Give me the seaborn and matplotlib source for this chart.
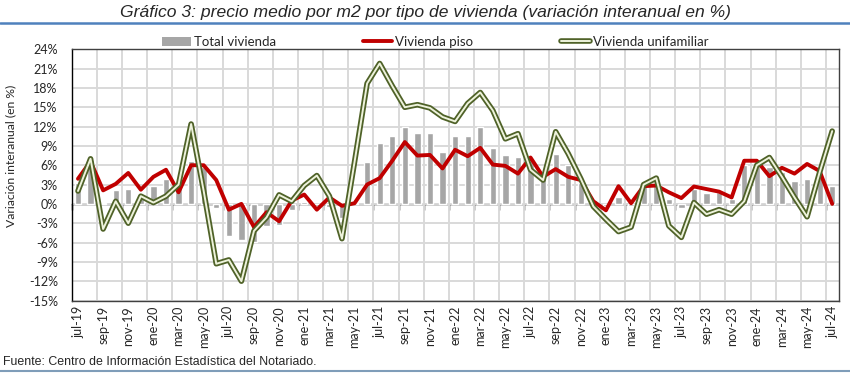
import matplotlib
matplotlib.use('Agg')
import matplotlib.pyplot as plt
import seaborn as sns
import numpy as np
import pandas as pd
from matplotlib.lines import Line2D
from matplotlib.patches import Patch

# meses jul-19 ... jul-24
meses = ['ene', 'feb', 'mar', 'abr', 'may', 'jun', 'jul', 'ago', 'sep', 'oct', 'nov', 'dic']
fechas = [f"{meses[(6 + k) % 12]}-{19 + (6 + k) // 12}" for k in range(61)]

total_vivienda = [3.3, 6.8, 0.2, 2.2, 2.35, 1.0, 2.75, 3.8, 2.7, 6.7,
                  5.8, -0.7, -5.0, -5.6, -5.9, -3.5, -3.3, -1.0, 0.35, -0.3,
                  -0.5, -2.2, 0.1, 6.5, 9.4, 10.6, 12.0, 11.0, 11.0, 8.1,
                  10.6, 10.5, 12.0, 8.7, 7.6, 7.3, 6.8, 4.3, 7.7, 6.0,
                  3.2, 0.6, -0.3, 1.0, -0.4, 3.3, 3.2, 0.7, -0.6, 2.3,
                  1.7, 1.8, 0.8, 6.1, 7.0, 5.7, 5.0, 3.5, 3.9, 4.6,
                  2.75]
vivienda_piso = [3.9, 6.6, 2.1, 3.1, 4.8, 2.2, 4.2, 5.3, 1.8, 6.0,
                 6.0, 3.7, -0.9, 0.0, -3.6, -1.3, -2.7, 0.5, 1.45, -0.9,
                 1.0, -0.3, 0.1, 3.0, 4.0, 6.7, 9.6, 7.5, 7.6, 5.5,
                 8.4, 7.4, 8.7, 6.1, 5.9, 4.7, 7.2, 4.2, 5.4, 4.2,
                 3.7, 0.4, -1.0, 2.75, 0.1, 2.75, 2.85, 1.8, 0.9, 2.7,
                 2.3, 1.9, 1.0, 6.7, 6.7, 4.3, 5.6, 4.7, 6.2, 5.1,
                 0.0]
vivienda_unifamiliar = [2.0, 7.0, -3.9, 0.4, -3.0, 1.2, 0.2, 1.2, 3.0, 12.4,
                        2.0, -9.3, -8.7, -12.0, -4.2, -2.1, 1.4, 0.4, 2.85, 4.4,
                        1.2, -5.4, 6.5, 18.7, 21.8, 18.3, 15.0, 15.4, 14.9, 13.5,
                        12.8, 15.6, 17.3, 14.5, 10.1, 10.9, 5.3, 3.7, 11.2, 7.8,
                        3.9, -0.4, -2.4, -4.3, -3.6, 3.0, 4.0, -3.4, -5.2, 0.2,
                        -1.6, -0.9, -1.6, 0.4, 6.0, 7.2, 4.2, 1.0, -2.0, 4.9,
                        11.3]

df = pd.DataFrame({'idx': np.arange(61), 'fecha': fechas,
                   'total': total_vivienda, 'piso': vivienda_piso,
                   'unifamiliar': vivienda_unifamiliar})

sns.set_theme(style='white')
plt.rcParams['font.family'] = ['Lato', 'DejaVu Sans']
arial = ['Liberation Sans', 'DejaVu Sans']

GRIS = '#A6A6A6'
ROJO = '#C00000'
OLIVA = '#4F6228'
CLARO = '#EEF3DC'

fig = plt.figure(figsize=(8.5, 3.74), dpi=100)
ax = fig.add_axes([71.7 / 850, 1 - 300.5 / 374, (838.5 - 71.7) / 850, (300.5 - 49.3) / 374])

sns.barplot(data=df, x='idx', y='total', native_scale=True, color=GRIS, saturation=1,
            width=0.5, errorbar=None, ax=ax, zorder=2)
sns.lineplot(data=df, x='idx', y='piso', color=ROJO, linewidth=2.8, ax=ax, zorder=4)
sns.lineplot(data=df, x='idx', y='unifamiliar', color=OLIVA, linewidth=4.0, ax=ax, zorder=5)
sns.lineplot(data=df, x='idx', y='unifamiliar', color=CLARO, linewidth=1.4, ax=ax, zorder=6)

ax.set_xlim(-0.5, 60.5)
ax.set_ylim(-15, 24)
yt = np.arange(-15, 25, 3)
ax.set_yticks(yt)
ax.set_yticklabels([f'{v}%' for v in yt], fontsize=9)
ax.set_xticks(np.arange(0, 61, 2))
ax.set_xticklabels(fechas[::2], rotation=90, fontsize=9)
ax.set_xticks(np.arange(1.5, 60, 2), minor=True)
ax.grid(axis='y', which='major', color='#D9D9D9', lw=1.4)
ax.grid(axis='x', which='minor', color='#D9D9D9', lw=1.4)
ax.set_axisbelow(True)
ax.tick_params(axis='x', which='both', length=0, pad=4)
ax.tick_params(axis='y', length=3, width=1, color='black', direction='out', pad=7)
ax.set_xlabel('')
ax.set_ylabel('Variación interanual (en %)', fontsize=8.7)
ax.yaxis.set_label_coords(-0.072, 0.575)
for s in ['top', 'right', 'bottom']:
    ax.spines[s].set_color('#404040')
    ax.spines[s].set_linewidth(1)
ax.spines['left'].set_color('black')
ax.spines['left'].set_linewidth(1)

# eje de categorias en 0%
eje0 = ax.secondary_xaxis(15 / 39)
eje0.set_xticks(np.arange(-0.5, 61, 2))
eje0.tick_params(length=4, width=1, color='black', direction='out', labelbottom=False, labeltop=False)
for s in eje0.spines.values():
    s.set_color('black')
    s.set_linewidth(1)

handles = [Patch(facecolor=GRIS, edgecolor='none'),
           Line2D([], [], color=ROJO, lw=2.8),
           (Line2D([], [], color=OLIVA, lw=4.0), Line2D([], [], color=CLARO, lw=1.4))]
fig.legend(handles, ['Total vivienda', 'Vivienda piso', 'Vivienda unifamiliar'],
           loc='center', bbox_to_anchor=(435 / 850, 1 - 42 / 374), ncol=3, frameon=False,
           fontsize=9.5, handlelength=2.2, handletextpad=0.25, columnspacing=6.6, borderpad=0)

fig.text(0.5, 1 - 12 / 374, 'Gráfico 3: precio medio por m2 por tipo de vivienda (variación interanual en %)',
         ha='center', va='center', style='italic', fontsize=12.6, family=arial)
fig.text(3 / 850, 1 - 362 / 374, 'Fuente: Centro de Información Estadística del Notariado.',
         ha='left', va='center', fontsize=8.9, family=arial)
fig.add_artist(Line2D([0, 1], [1 - 23 / 374] * 2, transform=fig.transFigure, color='#4F81BD', lw=1.8))
fig.add_artist(Line2D([0, 1], [1 - 371 / 374] * 2, transform=fig.transFigure, color='#7F9DB9', lw=1.5))

fig.savefig('out.png', dpi=100)
